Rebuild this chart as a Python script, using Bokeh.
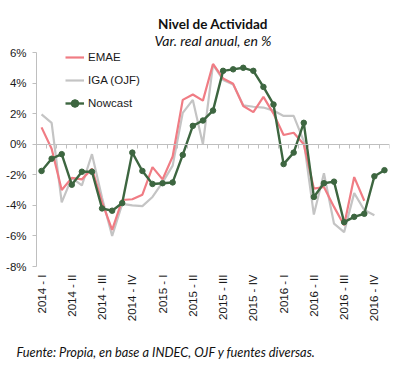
from bokeh.plotting import figure
from bokeh.models import (Range1d, LinearAxis, FixedTicker, Legend, LegendItem,
                          Title, ColumnDataSource)
from bokeh.embed import file_html
from bokeh.resources import INLINE
from math import pi

# ---- data -------------------------------------------------------------
months = ["2014-01", "2014-02", "2014-03", "2014-04", "2014-05", "2014-06",
          "2014-07", "2014-08", "2014-09", "2014-10", "2014-11", "2014-12",
          "2015-01", "2015-02", "2015-03", "2015-04", "2015-05", "2015-06",
          "2015-07", "2015-08", "2015-09", "2015-10", "2015-11", "2015-12",
          "2016-01", "2016-02", "2016-03", "2016-04", "2016-05", "2016-06",
          "2016-07", "2016-08", "2016-09", "2016-10", "2016-11"]

emae = [1.1, -0.3, -3.0, -2.2, -2.3, -1.6, -3.8, -5.6, -3.65, -3.6, -3.3,
        -1.5, -2.3, -0.8, 2.9, 3.25, 2.85, 5.25, 4.3, 3.95, 2.5, 2.1, 3.1,
        2.0, 0.6, 0.75, 0.0, -2.9, -2.8, -4.1, -5.3, -2.15, -3.7]

iga = [1.95, 1.4, -3.8, -2.2, -2.7, -0.65, -3.5, -6.0, -3.9, -4.0, -4.05,
       -3.45, -2.5, -1.4, 2.05, 2.9, 0.0, 5.2, 4.2, 3.9, 2.55, 2.45, 2.4,
       2.2, 1.85, 1.85, 0.2, -4.6, -1.9, -5.2, -5.75, -3.2, -4.3, -4.65]

nowcast = [-1.75, -0.95, -0.65, -2.65, -1.8, -1.8, -4.2, -4.35, -3.85, -0.55,
           -1.75, -2.6, -2.55, -2.5, -0.7, 1.2, 1.55, 2.2, 4.8, 4.9, 5.0, 4.8,
           3.75, 2.6, -1.3, -0.55, 1.4, -3.45, -2.55, -2.45, -5.1, -4.75,
           -4.55, -2.1, -1.7]

tick_labels = ["2014 - I", "2014 - II", "2014 - III", "2014 - IV",
               "2015 - I", "2015 - II", "2015 - III", "2015 - IV",
               "2016 - I", "2016 - II", "2016 - III", "2016 - IV"]

y_ticks = [-8, -6, -4, -2, 0, 2, 4, 6]

# ---- figure -----------------------------------------------------------
n = len(months)
xs = list(range(n))

p = figure(width=403, height=376, output_backend="svg", toolbar_location=None,
           title_location=None,
           x_range=Range1d(-0.5, n - 0.5), y_range=Range1d(-8, 6),
           min_border_left=36, min_border_right=14,
           min_border_top=52, min_border_bottom=110)
p.outline_line_color = None
p.xgrid.visible = False
p.ygrid.visible = False
p.background_fill_color = "white"
p.border_fill_color = "white"

AX = "#bfbfbf"
FONT = "Liberation Sans"

# y axis
p.yaxis.ticker = FixedTicker(ticks=y_ticks)
p.yaxis.major_label_overrides = {v: f"{v}%" for v in y_ticks}
p.yaxis.axis_line_color = AX
p.yaxis.major_tick_line_color = AX
p.yaxis.major_tick_out = 4
p.yaxis.major_tick_in = 0
p.yaxis.minor_tick_line_color = None
p.yaxis.major_label_standoff = 6
p.yaxis.major_label_text_font = FONT
p.yaxis.major_label_text_font_size = "11.5px"
p.yaxis.major_label_text_color = "#1a1a1a"

# x axis (labels only, at bottom)
label_pos = [i for i, m in enumerate(months) if m[5:] in ("01", "04", "07", "10")]
p.xaxis.ticker = FixedTicker(ticks=label_pos)
p.xaxis.major_label_overrides = {pos: lab for pos, lab in zip(label_pos, tick_labels)}
p.xaxis.major_label_orientation = pi / 2
p.xaxis.axis_line_color = None
p.xaxis.major_tick_line_color = None
p.xaxis.minor_tick_line_color = None
p.xaxis.major_tick_out = 0
p.xaxis.major_tick_in = 0
p.xaxis.major_label_standoff = 8
p.xaxis.major_label_text_font = FONT
p.xaxis.major_label_text_font_size = "11.5px"
p.xaxis.major_label_text_color = "#1a1a1a"

# zero line axis with category boundary ticks (no labels)
bounds = [i - 0.5 for i in range(n + 1)]
zero_axis = LinearAxis(fixed_location=0,
                       ticker=FixedTicker(ticks=bounds),
                       major_label_overrides={b: "" for b in bounds},
                       major_label_text_font_size="1px",
                       major_label_standoff=0,
                       axis_line_color=AX, major_tick_line_color=AX,
                       minor_tick_line_color=None,
                       major_tick_out=4, major_tick_in=0)
p.add_layout(zero_axis, "below")

# ---- series -----------------------------------------------------------
src_e = ColumnDataSource(dict(x=xs[:len(emae)], y=emae))
src_i = ColumnDataSource(dict(x=xs[:len(iga)], y=iga))
src_n = ColumnDataSource(dict(x=xs[:len(nowcast)], y=nowcast))

r_i = p.line("x", "y", source=src_i, line_color="#c4c4c4", line_width=2.2)
r_e = p.line("x", "y", source=src_e, line_color="#f07c84", line_width=2.2)
r_n = p.line("x", "y", source=src_n, line_color="#3d6640", line_width=2.4)
r_nm = p.scatter("x", "y", source=src_n, size=5.5, fill_color="#3d6640",
                 line_color="#3d6640")

legend = Legend(items=[LegendItem(label="EMAE", renderers=[r_e]),
                       LegendItem(label="IGA (OJF)", renderers=[r_i]),
                       LegendItem(label="Nowcast", renderers=[r_n, r_nm])],
                location=(29, 153), orientation="vertical",
                border_line_color=None, background_fill_alpha=0,
                padding=0, margin=0, spacing=3, glyph_width=19,
                glyph_height=20, label_height=20, label_standoff=4,
                label_text_font=FONT, label_text_font_size="11.5px",
                label_text_color="#1a1a1a")
p.add_layout(legend, "center")

# ---- titles & source note ---------------------------------------------
p.add_layout(Title(text="Var. real anual, en %", text_font="Lato",
                   text_font_style="italic", text_font_size="14px",
                   align="center", offset=-11, standoff=7,
                   text_color="#111111"), "above")
p.add_layout(Title(text="Nivel de Actividad", text_font="Lato",
                   text_font_style="bold", text_font_size="13.5px",
                   align="center", offset=-11, standoff=-10,
                   text_color="#111111"), "above")
p.add_layout(Title(text="Fuente: Propia, en base a INDEC, OJF y fuentes diversas.",
                   text_font="Lato", text_font_style="italic",
                   text_font_size="12.8px", align="left", offset=-20,
                   standoff=34, text_color="#111111"), "below")

open("out.html", "w").write(file_html(p, INLINE))
